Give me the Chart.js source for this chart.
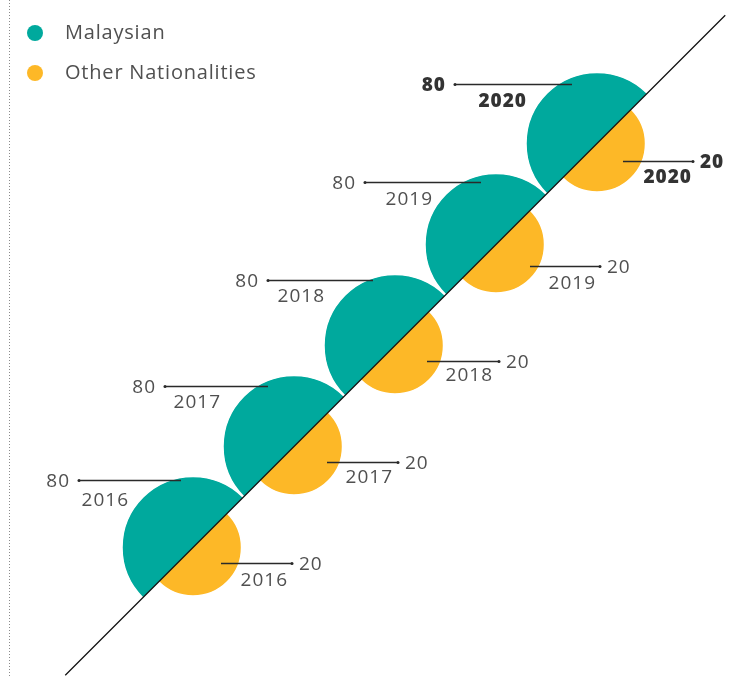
<!DOCTYPE html>
<html>
<head>
<meta charset="utf-8">
<script src="https://cdn.jsdelivr.net/npm/chart.js@4.4.1/dist/chart.umd.min.js"></script>
<style>
  html, body { margin: 0; padding: 0; background: #fff; }
  canvas { display: block; }
</style>
</head>
<body>
<canvas id="chart" width="750" height="676"></canvas>
<script>
// Workforce split by nationality, per year (%)
const years = [2016, 2017, 2018, 2019, 2020];
const malaysian = [80, 80, 80, 80, 80];
const otherNationalities = [20, 20, 20, 20, 20];
const seriesNames = ['Malaysian', 'Other Nationalities'];

const TEAL = '#00a99d';
const AMBER = '#fdb827';
const TEXT = '#505050';
const TEXT_STRONG = '#333333';
const INK = '#2a2a2a';
const FONT = '"Open Sans", Lato, sans-serif';

// Timeline axis: both axes run over years so the timeline sits on y = x
const X_RANGE = [2014.089, 2021.515];
const Y_RANGE = [2014.728, 2021.421];
const TIMELINE = [2014.735, 2021.27];

// Bubble radius (px) grows with the logarithm of the share
const bubbleRadius = v => 16.2 * Math.log(v);

const bubblePoints = values => years.map((yr, i) => ({ x: yr, y: yr, r: bubbleRadius(values[i]), v: values[i] }));

// Call-out placement relative to each bubble centre (px):
// upper: [leader y, leader start x, leader end x, year right x, year y]
// lower: [leader y, leader start x, leader end x, year right x, year y]
const upperCallout = [
  [-68, -114, -12, -64, -47],
  [-61, -129, -26, -73, -44],
  [-66, -127, -22, -70, -49],
  [-63, -131, -15, -63, -45],
  [-60, -142, -25, -70, -42]
];
const lowerCallout = [
  [15, 28, 99, 95, 33],
  [15, 33, 104, 99, 31],
  [15, 32, 104, 98, 30],
  [21, 34, 104, 100, 39],
  [17, 26, 96, 95, 34]
];

// Keep each series on its own side of the timeline
const halfPlaneClip = {
  id: 'halfPlaneClip',
  beforeDatasetDraw(chart, args) {
    const ds = chart.data.datasets[args.index];
    if (!ds.side) return;
    const { x, y } = chart.scales;
    const ax = x.getPixelForValue(TIMELINE[0]), ay = y.getPixelForValue(TIMELINE[0]);
    const bx = x.getPixelForValue(TIMELINE[1]), by = y.getPixelForValue(TIMELINE[1]);
    const len = Math.hypot(bx - ax, by - ay);
    const dx = (bx - ax) / len, dy = (by - ay) / len;
    const s = ds.side === 'upper' ? 1 : -1;
    const nx = dy * s, ny = -dx * s;
    const E = 3000;
    const ctx = chart.ctx;
    ctx.save();
    ctx.beginPath();
    ctx.moveTo(ax - dx * E, ay - dy * E);
    ctx.lineTo(bx + dx * E, by + dy * E);
    ctx.lineTo(bx + dx * E + nx * E, by + dy * E + ny * E);
    ctx.lineTo(ax - dx * E + nx * E, ay - dy * E + ny * E);
    ctx.closePath();
    ctx.clip();
  },
  afterDatasetDraw(chart, args) {
    const ds = chart.data.datasets[args.index];
    if (ds.side) chart.ctx.restore();
  }
};

// Dotted rule along the left edge
const leftRule = {
  id: 'leftRule',
  beforeDraw(chart) {
    const ctx = chart.ctx;
    ctx.save();
    ctx.strokeStyle = '#8a8a8a';
    ctx.lineWidth = 1;
    ctx.setLineDash([1, 2]);
    ctx.beginPath();
    ctx.moveTo(9.5, 0);
    ctx.lineTo(9.5, chart.height);
    ctx.stroke();
    ctx.restore();
  }
};

function drawText(ctx, txt, x, y, align, bold, size) {
  ctx.font = (bold ? '800 ' : '') + size + 'px ' + FONT;
  ctx.fillStyle = bold ? TEXT_STRONG : TEXT;
  ctx.textAlign = align;
  ctx.textBaseline = 'middle';
  ctx.fillText(txt, x, y);
}

function leader(ctx, x1, x2, y, dotX) {
  ctx.strokeStyle = INK;
  ctx.lineWidth = 1.4;
  ctx.beginPath();
  ctx.moveTo(x1, y);
  ctx.lineTo(x2, y);
  ctx.stroke();
  ctx.fillStyle = INK;
  ctx.beginPath();
  ctx.arc(dotX, y, 1.5, 0, Math.PI * 2);
  ctx.fill();
}

// Value and year call-outs for every bubble
const callouts = {
  id: 'callouts',
  afterDatasetsDraw(chart) {
    const ctx = chart.ctx;
    ctx.save();
    ctx.letterSpacing = '1px';
    const upper = chart.getDatasetMeta(1).data;
    const lower = chart.getDatasetMeta(2).data;
    years.forEach((yr, i) => {
      const bold = i === years.length - 1;
      const u = upper[i];
      const [uy, us, ue, uyr, uyy] = upperCallout[i];
      const ly = Math.round(u.y + uy) + 0.5;
      leader(ctx, u.x + us, u.x + ue, ly, u.x + us);
      drawText(ctx, String(malaysian[i]), u.x + us - 9, ly + 1, 'right', bold, 19);
      drawText(ctx, String(yr), u.x + uyr, u.y + uyy, 'right', bold, 19);

      const l = lower[i];
      const [ry0, rs, re, ryr, ryy] = lowerCallout[i];
      const ry = Math.round(l.y + ry0) + 0.5;
      leader(ctx, l.x + rs, l.x + re, ry, l.x + re);
      drawText(ctx, String(otherNationalities[i]), l.x + re + 7, ry + 1, 'left', bold, 19);
      drawText(ctx, String(yr), l.x + ryr, l.y + ryy, 'right', bold, 19);
    });
    ctx.restore();
  }
};

// Series key in the top-left corner
const seriesKey = {
  id: 'seriesKey',
  afterDraw(chart) {
    const ctx = chart.ctx;
    ctx.save();
    ctx.letterSpacing = '0.8px';
    [1, 2].forEach((dsIndex, row) => {
      const ds = chart.data.datasets[dsIndex];
      const cy = 33 + row * 40;
      ctx.fillStyle = ds.backgroundColor;
      ctx.beginPath();
      ctx.arc(35, cy, 8, 0, Math.PI * 2);
      ctx.fill();
      drawText(ctx, ds.label, 65, cy, 'left', false, 20);
    });
    ctx.restore();
  }
};

new Chart(document.getElementById('chart'), {
  type: 'bubble',
  data: {
    datasets: [
      {
        type: 'line',
        label: 'timeline',
        data: [{ x: TIMELINE[0], y: TIMELINE[0] }, { x: TIMELINE[1], y: TIMELINE[1] }],
        borderColor: '#111111',
        borderWidth: 1.2,
        pointRadius: 0,
        fill: false,
        clip: false,
        order: 0
      },
      {
        label: seriesNames[0],
        data: bubblePoints(malaysian),
        backgroundColor: TEAL,
        borderColor: '#ffffff',
        borderWidth: 1.5,
        side: 'upper',
        clip: false,
        order: 2
      },
      {
        label: seriesNames[1],
        data: bubblePoints(otherNationalities),
        backgroundColor: AMBER,
        borderColor: '#ffffff',
        borderWidth: 1.5,
        side: 'lower',
        clip: false,
        order: 1
      }
    ]
  },
  options: {
    responsive: false,
    animation: false,
    events: [],
    layout: { padding: 0, autoPadding: false },
    scales: {
      x: { type: 'linear', min: X_RANGE[0], max: X_RANGE[1], display: false },
      y: { type: 'linear', min: Y_RANGE[0], max: Y_RANGE[1], display: false }
    },
    plugins: {
      legend: { display: false },
      tooltip: { enabled: false }
    }
  },
  plugins: [leftRule, halfPlaneClip, callouts, seriesKey]
});
</script>
</body>
</html>
